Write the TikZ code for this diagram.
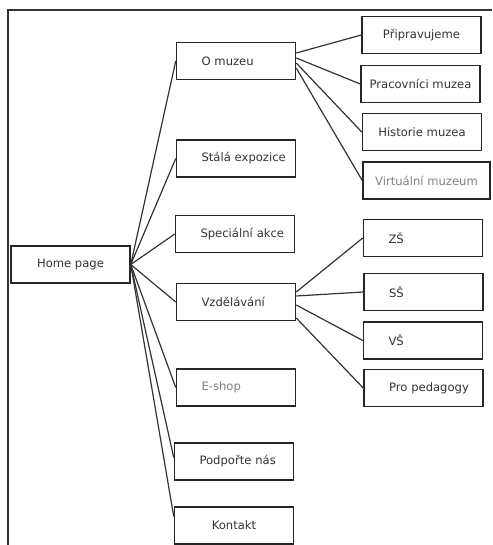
\documentclass[tikz,border=0pt]{standalone}
\usepackage{tikz}
\usepackage{xcolor}
\usepackage{fontspec}
\newfontfamily\dejavu{DejaVu Sans}
\newcommand{\FT}{\dejavu\fontsize{11.6}{14}\selectfont}

\begin{document}
\begin{tikzpicture}[x=1pt,y=-1pt]
\tikzstyle{box}=[draw=black!85,line width=1.5pt,fill=white,text=black!80,font=\FT,minimum width=119pt,minimum height=37pt,inner sep=0pt]
\tikzstyle{lbox}=[box,text width=107pt,inner xsep=6pt,align=left,execute at begin node={\hspace*{19pt}}]
\tikzstyle{pale}=[text=black!50]
\tikzstyle{line}=[black!80,line width=1.2pt]

\useasboundingbox (0,0) rectangle (492,545);
\draw[line] (492,10) -- (8,10) -- (8,545);

% levels
\node[box]  (home)    at (70.5,264.5) {Home page};
\node[lbox] (muzeu)   at (236,61)     {O muzeu};
\node[lbox] (stala)   at (236,158.5)  {Stálá expozice};
\node[lbox] (spec)    at (235,234)    {Speciální akce};
\node[lbox] (vzdel)   at (236,302)    {Vzdělávání};
\node[lbox,pale] (eshop) at (236,387.5) {E-shop};
\node[lbox] (podpor)  at (234,461.5)  {Podpořte nás};
\node[box]  (kontakt) at (234,525.5)  {Kontakt};

\node[box] (prip) at (421.5,35)  {Připravujeme};
\node[box] (prac) at (420.5,84)  {Pracovníci muzea};
\node[box] (hist) at (422,132)   {Historie muzea};
\node[box,pale,minimum width=127pt] (virt) at (426.5,180.5) {Virtuální muzeum};

\node[lbox] (zs)  at (423,238)   {ZŠ};
\node[lbox] (ss)  at (423.5,292) {SŠ};
\node[lbox] (vs)  at (423,340.5) {VŠ};
\node[lbox] (ped) at (423.5,388) {Pro pedagogy};

% connectors
\foreach \n in {muzeu,stala,spec,vzdel,eshop}
  \draw[line] (home.east) -- (\n.west);
\draw[line] (home.east) -- ([yshift=4]podpor.west);
\draw[line] (home.east) -- ([yshift=9]kontakt.west);

\draw[line] ([yshift=8]muzeu.east) -- (prip.west);
\draw[line] ([yshift=3]muzeu.east) -- (prac.west);
\draw[line] ([yshift=-2]muzeu.east) -- (hist.west);
\draw[line] ([yshift=-7]muzeu.east) -- (virt.west);

\draw[line] ([yshift=10]vzdel.east) -- (zs.west);
\draw[line] ([yshift=6]vzdel.east) -- (ss.west);
\draw[line] ([yshift=-3]vzdel.east) -- (vs.west);
\draw[line] ([yshift=-16]vzdel.east) -- (ped.west);
\end{tikzpicture}
\end{document}
